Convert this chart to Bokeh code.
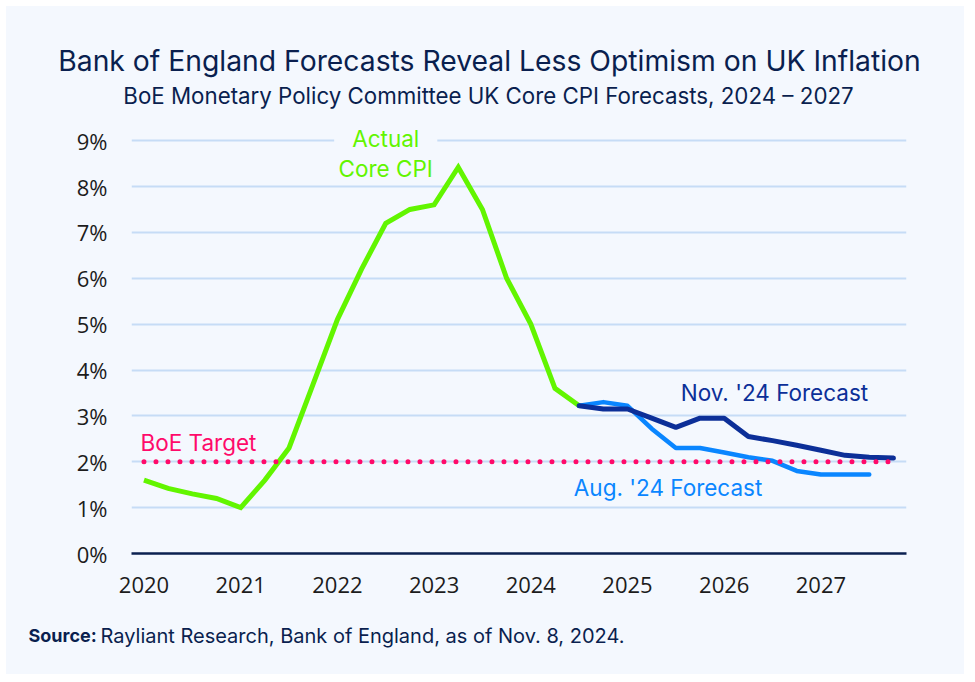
from bokeh.plotting import figure
from bokeh.models import Label, FixedTicker, Range1d
from bokeh.layouts import column
from bokeh.embed import file_html
from bokeh.resources import INLINE

# ---------------- data ----------------
actual_x = [2020.0, 2020.25, 2020.5, 2020.75, 2021.0, 2021.25, 2021.5, 2021.75,
            2022.0, 2022.25, 2022.5, 2022.75, 2023.0, 2023.25, 2023.5, 2023.75,
            2024.0, 2024.25, 2024.5]
actual_y = [1.6, 1.42, 1.3, 1.2, 1.0, 1.6, 2.3, 3.7,
            5.1, 6.2, 7.2, 7.5, 7.6, 8.42, 7.5, 6.0,
            5.0, 3.6, 3.22]

nov_x = [2024.5, 2024.75, 2025.0, 2025.25, 2025.5, 2025.75, 2026.0, 2026.25,
         2026.5, 2026.75, 2027.0, 2027.25, 2027.5, 2027.75]
nov_y = [3.22, 3.15, 3.15, 2.95, 2.75, 2.95, 2.95, 2.55,
         2.46, 2.36, 2.25, 2.14, 2.1, 2.08]

aug_x = [2024.5, 2024.75, 2025.0, 2025.25, 2025.5, 2025.75, 2026.0, 2026.25,
         2026.5, 2026.75, 2027.0, 2027.25, 2027.5]
aug_y = [3.22, 3.3, 3.22, 2.72, 2.3, 2.3, 2.2, 2.1,
         2.02, 1.8, 1.72, 1.72, 1.72]

target_x = [2020.0, 2027.75]
target_y = [2.0, 2.0]

x_ticks = [2020, 2021, 2022, 2023, 2024, 2025, 2026, 2027]
x_tick_labels = ["2020", "2021", "2022", "2023", "2024", "2025", "2026", "2027"]
y_ticks = [0, 1, 2, 3, 4, 5, 6, 7, 8, 9]
y_tick_labels = ["0%", "1%", "2%", "3%", "4%", "5%", "6%", "7%", "8%", "9%"]

title_text = "Bank of England Forecasts Reveal Less Optimism on UK Inflation"
subtitle_text = "BoE Monetary Policy Committee UK Core CPI Forecasts, 2024 \u2013 2027"
source_bold = "Source:"
source_text = "Rayliant Research, Bank of England, as of Nov. 8, 2024."

# ---------------- style ----------------
BG = "#f4f8fe"
GREEN = "#62f500"
NAVY = "#0c2f98"
BLUE = "#0a86ff"
PINK = "#ff0a6a"
DARK = "#0b2150"
GRID = "#c6dcf6"
TXT = "#0a1f4f"
FONT = "Inter"
TICKFONT = "Open Sans"
W = 958
H_HEAD, H_MAIN, H_FOOT = 109, 495, 64


def text_panel(height):
    f = figure(width=W, height=height, output_backend="svg", toolbar_location=None,
               x_range=Range1d(0, W), y_range=Range1d(0, height),
               x_axis_type=None, y_axis_type=None, frame_align=False,
               min_border=0, min_border_left=0, min_border_right=0,
               min_border_top=0, min_border_bottom=0)
    f.background_fill_color = BG
    f.border_fill_color = BG
    f.outline_line_color = None
    f.xgrid.visible = False
    f.ygrid.visible = False
    return f


# ---------------- header ----------------
head = text_panel(H_HEAD)
head.add_layout(Label(x=483, y=55, text=title_text, text_align="center", text_baseline="middle",
                      text_font=FONT, text_font_size="28.3px", text_color=TXT))
head.add_layout(Label(x=482, y=20, text=subtitle_text, text_align="center", text_baseline="middle",
                      text_font=FONT, text_font_size="22.3px", text_color=TXT))

# ---------------- main chart ----------------
p = figure(width=W, height=H_MAIN, output_backend="svg", toolbar_location=None,
           x_range=Range1d(2019.871, 2027.885), y_range=Range1d(0, 9.33),
           frame_align=False,
           min_border_left=125, min_border_right=58,
           min_border_top=10, min_border_bottom=57)
p.background_fill_color = BG
p.border_fill_color = BG
p.outline_line_color = None

p.xaxis.ticker = FixedTicker(ticks=x_ticks)
p.xaxis.major_label_overrides = {t: l for t, l in zip(x_ticks, x_tick_labels)}
p.yaxis.ticker = FixedTicker(ticks=y_ticks)
p.yaxis.major_label_overrides = {t: l for t, l in zip(y_ticks, y_tick_labels)}
for ax in (p.xaxis, p.yaxis):
    ax.major_tick_line_color = None
    ax.minor_tick_line_color = None
    ax.major_label_text_font = TICKFONT
    ax.major_label_text_font_size = "22px"
    ax.major_label_text_color = "#1c1c1c"
p.xaxis.axis_line_color = DARK
p.xaxis.axis_line_width = 2.5
p.xaxis.major_label_standoff = 17
p.yaxis.axis_line_color = None
p.yaxis.major_label_standoff = 18

p.xgrid.grid_line_color = None
p.ygrid.ticker = FixedTicker(ticks=y_ticks[1:])
p.ygrid.grid_line_color = GRID
p.ygrid.grid_line_width = 2

p.line(actual_x, actual_y, line_color=GREEN, line_width=5, line_join="miter")
p.line(aug_x, aug_y, line_color=BLUE, line_width=4.5, line_join="round", line_cap="round")
p.line(nov_x, nov_y, line_color=NAVY, line_width=5, line_join="round", line_cap="round")
p.line(target_x, target_y, line_color=PINK, line_width=5, line_dash="0 12", line_cap="round")

LBL = "22.5px"
p.add_layout(Label(x=2022.5, y=9.05, text="Actual", text_align="center", text_baseline="middle",
                   text_font=FONT, text_font_size=LBL, text_color=GREEN,
                   background_fill_color=BG, padding=dict(left=18, right=18, top=0, bottom=0)))
p.add_layout(Label(x=2022.5, y=8.39, text="Core CPI", text_align="center", text_baseline="middle",
                   text_font=FONT, text_font_size=LBL, text_color=GREEN))
p.add_layout(Label(x=2025.55, y=3.52, text="Nov. '24 Forecast", text_align="left", text_baseline="middle",
                   text_font=FONT, text_font_size=LBL, text_color=NAVY))
p.add_layout(Label(x=2024.445, y=1.43, text="Aug. '24 Forecast", text_align="left", text_baseline="middle",
                   text_font=FONT, text_font_size=LBL, text_color=BLUE))
p.add_layout(Label(x=2019.964, y=2.43, text="BoE Target", text_align="left", text_baseline="middle",
                   text_font=FONT, text_font_size=LBL, text_color=PINK))

# ---------------- footer ----------------
foot = text_panel(H_FOOT)
foot.add_layout(Label(x=22, y=39, text=source_bold, text_align="left", text_baseline="middle",
                      text_font_style="bold", text_font=FONT, text_font_size="18px", text_color=TXT))
foot.add_layout(Label(x=94, y=39, text=source_text, text_align="left", text_baseline="middle",
                      text_font=FONT, text_font_size="20px", text_color=TXT))

layout = column(head, p, foot, spacing=0)
layout.margin = (6, 0, 0, 6)
layout.styles = {"background-color": BG}

open("out.html", "w").write(file_html(layout, INLINE))
